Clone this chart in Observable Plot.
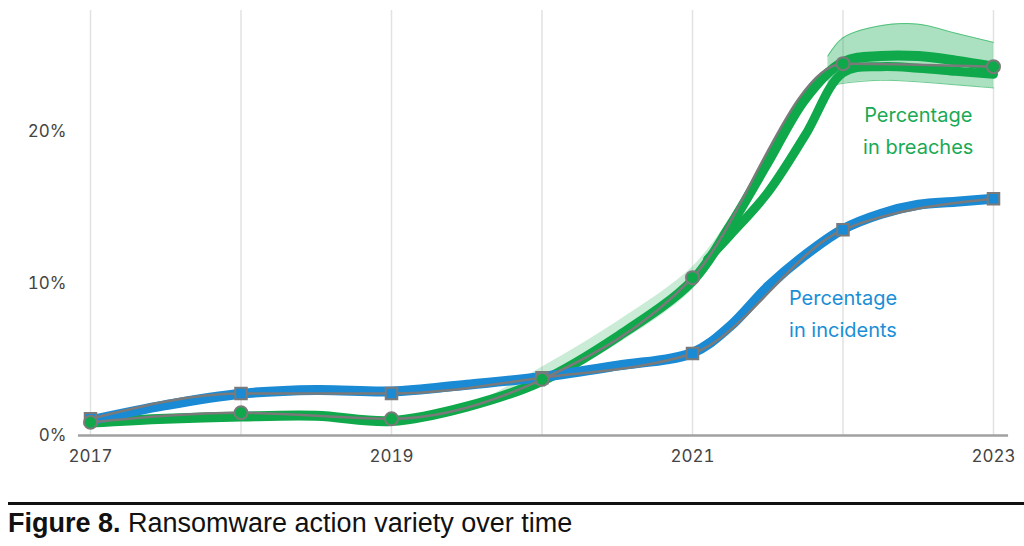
<!DOCTYPE html>
<html>
<head>
<meta charset="utf-8">
<script src="https://cdn.jsdelivr.net/npm/d3@7"></script>
<script src="https://cdn.jsdelivr.net/npm/@observablehq/plot@0.6"></script>
<style>
  html, body { margin: 0; padding: 0; background: #fff; }
  #chart svg { display: block; }
  .caption { margin: 12px 0 0 8px; border-top: 3px solid #111; padding-top: 2px;
    font-family: "Liberation Sans", Arial, sans-serif; font-size: 27px; line-height: 32px; color: #111; }
</style>
</head>
<body>
<div id="chart"></div>
<div class="caption"><b>Figure 8.</b> Ransomware action variety over time</div>
<script>
// Yearly observed values (percent)
const years = [2017, 2018, 2019, 2020, 2021, 2022, 2023];
const incidents = [1.1, 2.76, 2.76, 3.8, 5.4, 13.55, 15.6];
const breaches = [0.87, 1.5, 1.1, 3.7, 10.4, 24.5, 24.3];

// Dense bootstrap bundles
const bandT = [2017, 2017.5, 2018, 2018.5, 2019, 2019.5, 2020, 2020.5, 2021, 2021.25, 2021.5, 2021.75, 2022, 2022.25, 2022.5, 2022.75, 2023];
const incidentsBand = [1.0, 2.0, 2.75, 3.0, 2.9, 3.35, 3.85, 4.6, 5.45, 7.2, 9.8, 11.9, 13.6, 14.6, 15.2, 15.4, 15.6];
const breachesBand = [0.85, 1.1, 1.25, 1.3, 0.95, 1.9, 3.6, 6.5, 10.2, 13.8, 18.0, 22.2, 24.6, 25.0, 25.0, 24.7, 24.3];

const lagT = [2021.1, 2021.25, 2021.5, 2021.75, 2022, 2022.25, 2022.5, 2022.75, 2023];
const breachesLag = [11.6, 13.2, 16.0, 19.8, 23.9, 24.3, 24.2, 24.0, 23.8];

const spreadT = [2021.9, 2022, 2022.25, 2022.5, 2022.75, 2023];
const spreadHigh = [25.0, 26.2, 27.0, 27.1, 26.5, 25.9];
const spreadLow = [23.0, 23.2, 23.4, 23.3, 23.1, 22.9];

const earlySpreadT = [2019.6, 2020, 2020.5, 2021, 2021.25];
const earlyHigh = [2.3, 4.5, 7.5, 11.1, 14.3];
const earlyLow = [2.0, 3.3, 6.0, 9.6, 13.2];

const yTicks = [0, 10, 20];
const xTicks = [2017, 2019, 2021, 2023];
const gridYears = years;

const green = "#0fa84a";
const blue = "#1a8ad4";
const gray = "#7a7a7a";

const band = bandT.map((t, i) => ({t, inc: incidentsBand[i], br: breachesBand[i]}));
const lag = lagT.map((t, i) => ({t, v: breachesLag[i]}));
const spread = spreadT.map((t, i) => ({t, hi: spreadHigh[i], lo: spreadLow[i]}));
const early = earlySpreadT.map((t, i) => ({t, hi: earlyHigh[i], lo: earlyLow[i]}));
const pts = years.map((t, i) => ({t, inc: incidents[i], br: breaches[i]}));

const chart = Plot.plot({
  width: 1024,
  height: 490,
  marginLeft: 90,
  marginRight: 31,
  marginTop: 10,
  marginBottom: 55,
  style: {fontFamily: "Inter, 'Liberation Sans', sans-serif", fontSize: "17px", color: "#444", background: "#fff"},
  x: {domain: [2017, 2023], ticks: xTicks, tickFormat: d => String(d), tickSize: 0, tickPadding: 14, label: null},
  y: {domain: [0, 28], ticks: yTicks, tickFormat: d => d + "%", tickSize: 0, tickPadding: 24, label: null},
  marks: [
    Plot.ruleX(gridYears, {stroke: "#e2e2e2", strokeWidth: 1.5}),
    Plot.ruleY([0], {x1: 2016.92, x2: 2023.1, stroke: "#a0a0a0", strokeWidth: 2.5}),
    // green spaghetti spread
    Plot.areaY(early, {x: "t", y1: "lo", y2: "hi", curve: "catmull-rom", fill: green, fillOpacity: 0.22}),
    Plot.areaY(spread, {x: "t", y1: "lo", y2: "hi", curve: "catmull-rom", fill: green, fillOpacity: 0.35}),
    Plot.line(spread, {x: "t", y: "hi", curve: "catmull-rom", stroke: green, strokeWidth: 1, strokeOpacity: 0.6}),
    Plot.line(spread, {x: "t", y: "lo", curve: "catmull-rom", stroke: green, strokeWidth: 1, strokeOpacity: 0.6}),
    Plot.line(lag, {x: "t", y: "v", curve: "catmull-rom", stroke: green, strokeWidth: 9, strokeLinecap: "round"}),
    Plot.line(band, {x: "t", y: "br", curve: "catmull-rom", stroke: green, strokeWidth: 10, strokeLinecap: "round"}),
    // blue band
    Plot.line(band, {x: "t", y: "inc", curve: "catmull-rom", stroke: blue, strokeWidth: 10, strokeLinecap: "round"}),
    // observed lines
    Plot.line(pts, {x: "t", y: "inc", curve: "monotone-x", stroke: gray, strokeWidth: 2.5}),
    Plot.line(pts, {x: "t", y: "br", curve: "monotone-x", stroke: gray, strokeWidth: 2.5}),
    Plot.dot(pts, {x: "t", y: "inc", symbol: "square", r: 6.5, fill: blue, stroke: gray, strokeWidth: 2}),
    Plot.dot(pts, {x: "t", y: "br", symbol: "circle", r: 6.5, fill: green, stroke: gray, strokeWidth: 2}),
    Plot.text(["Percentage\nin breaches"], {x: 2022.5, y: 20.25, fill: "#1aaa55", fontSize: 20, lineHeight: 1.6, textAnchor: "middle"}),
    Plot.text(["Percentage\nin incidents"], {x: 2022.0, y: 8.2, fill: "#1a8fd6", fontSize: 20, lineHeight: 1.6, textAnchor: "middle"})
  ]
});
document.getElementById("chart").appendChild(chart);
</script>
</body>
</html>
